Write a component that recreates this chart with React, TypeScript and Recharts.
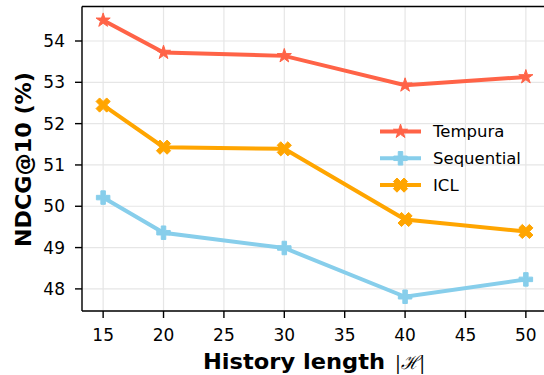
import React from 'react';
import { LineChart, Line, XAxis, YAxis, CartesianGrid, ReferenceLine } from 'recharts';

const historyLengths = [15, 20, 30, 40, 50];
const tempura = [54.5, 53.72, 53.64, 52.93, 53.13];
const sequential = [50.21, 49.36, 48.99, 47.81, 48.23];
const icl = [52.45, 51.43, 51.39, 49.68, 49.39];
const xTicks = [15, 20, 25, 30, 35, 40, 45, 50];
const yTicks = [48, 49, 50, 51, 52, 53, 54];

const seriesNames = ['Tempura', 'Sequential', 'ICL'];
const seriesColors = ['#FF6347', '#87CEEB', '#FFA500'];
const seriesKeys = ['tempura', 'sequential', 'icl'];
const seriesMarkers = ['star', 'plus', 'x'];

const data = historyLengths.map((x, i) => ({
  x,
  tempura: tempura[i],
  sequential: sequential[i],
  icl: icl[i],
}));

const FONT = 'DejaVu Sans, sans-serif';
const MS = 13.5;

function starPath(cx: number, cy: number, r: number) {
  const inner = r * 0.381966;
  const pts: string[] = [];
  for (let k = 0; k < 10; k++) {
    const rad = k % 2 === 0 ? r : inner;
    const a = -Math.PI / 2 + (k * Math.PI) / 5;
    pts.push(`${(cx + rad * Math.cos(a)).toFixed(2)},${(cy + rad * Math.sin(a)).toFixed(2)}`);
  }
  return 'M' + pts.join('L') + 'Z';
}

function polyPath(cx: number, cy: number, s: number, verts: number[][]) {
  return (
    'M' +
    verts
      .map(([a, b]) => `${(cx + (a - 0.5) * s).toFixed(2)},${(cy - (b - 0.5) * s).toFixed(2)}`)
      .join('L') +
    'Z'
  );
}

const plusVerts = [
  [1 / 3, 0], [2 / 3, 0], [2 / 3, 1 / 3], [1, 1 / 3], [1, 2 / 3], [2 / 3, 2 / 3],
  [2 / 3, 1], [1 / 3, 1], [1 / 3, 2 / 3], [0, 2 / 3], [0, 1 / 3], [1 / 3, 1 / 3],
];
const xVerts = [
  [0.25, 0], [0.5, 0.25], [0.75, 0], [1, 0.25], [0.75, 0.5], [1, 0.75],
  [0.75, 1], [0.5, 0.75], [0.25, 1], [0, 0.75], [0.25, 0.5], [0, 0.25],
];

function markerPath(kind: string, cx: number, cy: number) {
  if (kind === 'star') return starPath(cx, cy, MS * 0.55);
  if (kind === 'plus') return polyPath(cx, cy, MS, plusVerts);
  return polyPath(cx, cy, MS * 1.05, xVerts);
}

const makeDot = (kind: string, color: string) => (props: any) => {
  const { cx, cy, index } = props;
  if (cx == null || cy == null) return <g key={`d-${kind}-${index}`} />;
  return (
    <path
      key={`d-${kind}-${index}`}
      d={markerPath(kind, cx, cy)}
      fill={color}
      stroke={color}
      strokeWidth={1}
      strokeLinejoin="miter"
    />
  );
};

const XLabel = () => (
  <g>
    <text
      x={203}
      y={368.5}
      textAnchor="start"
      fontFamily={FONT}
      fontSize={20.5}
      fontWeight="bold"
      fill="#000"
      textLength={182}
      lengthAdjust="spacingAndGlyphs"
    >
      History length
    </text>
    <text
      x={395}
      y={368.5}
      textAnchor="start"
      fontFamily="DejaVu Serif, serif"
      fontSize={19}
      fontStyle="italic"
      fill="#000"
      textLength={30}
      lengthAdjust="spacingAndGlyphs"
    >
      |ℋ|
    </text>
  </g>
);

const YLabel = () => (
  <text
    x={31}
    y={159.5}
    transform="rotate(-90 31 159.5)"
    textAnchor="middle"
    fontFamily={FONT}
    fontSize={20.5}
    fontWeight="bold"
    fill="#000"
    textLength={175}
    lengthAdjust="spacingAndGlyphs"
  >
    NDCG@10 (%)
  </text>
);

const LegendBox = () => (
  <svg
    width={170}
    height={90}
    style={{ position: 'absolute', left: 370, top: 112, overflow: 'visible' }}
  >
    {seriesNames.map((name, i) => {
      const y = 19.5 + i * 26.8;
      return (
        <g key={name}>
          <line x1={10} x2={51} y1={y} y2={y} stroke={seriesColors[i]} strokeWidth={4} />
          <path d={markerPath(seriesMarkers[i], 30.5, y)} fill={seriesColors[i]} stroke={seriesColors[i]} strokeWidth={1} />
          <text x={63} y={y} dy="0.36em" fontFamily={FONT} fontSize={16.5} fill="#000">
            {name}
          </text>
        </g>
      );
    })}
  </svg>
);

export default function App() {
  return (
    <div style={{ position: 'absolute', left: 0, top: 0, width: 544, height: 375, overflow: 'hidden', background: '#fff' }}>
      <LineChart width={547} height={375} data={data} margin={{ top: 6.5, right: 0, bottom: 0, left: 0 }}>
        <CartesianGrid stroke="#e6e6e6" strokeWidth={1.2} />
        <XAxis
          dataKey="x"
          type="number"
          domain={[13.25, 51.75]}
          ticks={xTicks}
          allowDataOverflow
          height={64}
          tickSize={7}
          tickMargin={11}
          stroke="#000"
          strokeWidth={1.4}
          tick={{ fontFamily: FONT, fontSize: 17, fill: '#000' }}
          label={<XLabel />}
        />
        <YAxis
          type="number"
          domain={[47.465, 54.835]}
          ticks={yTicks}
          allowDataOverflow
          width={82}
          tickSize={7}
          tickMargin={10}
          stroke="#000"
          strokeWidth={1.4}
          tick={{ fontFamily: FONT, fontSize: 17, fill: '#000' }}
          label={<YLabel />}
        />
        <ReferenceLine y={54.835} stroke="#000" strokeWidth={1.4} />
        {seriesKeys.map((k, i) => (
          <Line
            key={k}
            dataKey={k}
            name={seriesNames[i]}
            stroke={seriesColors[i]}
            strokeWidth={4}
            dot={makeDot(seriesMarkers[i], seriesColors[i])}
            activeDot={false}
            isAnimationActive={false}
          />
        ))}
      </LineChart>
      <LegendBox />
    </div>
  );
}
